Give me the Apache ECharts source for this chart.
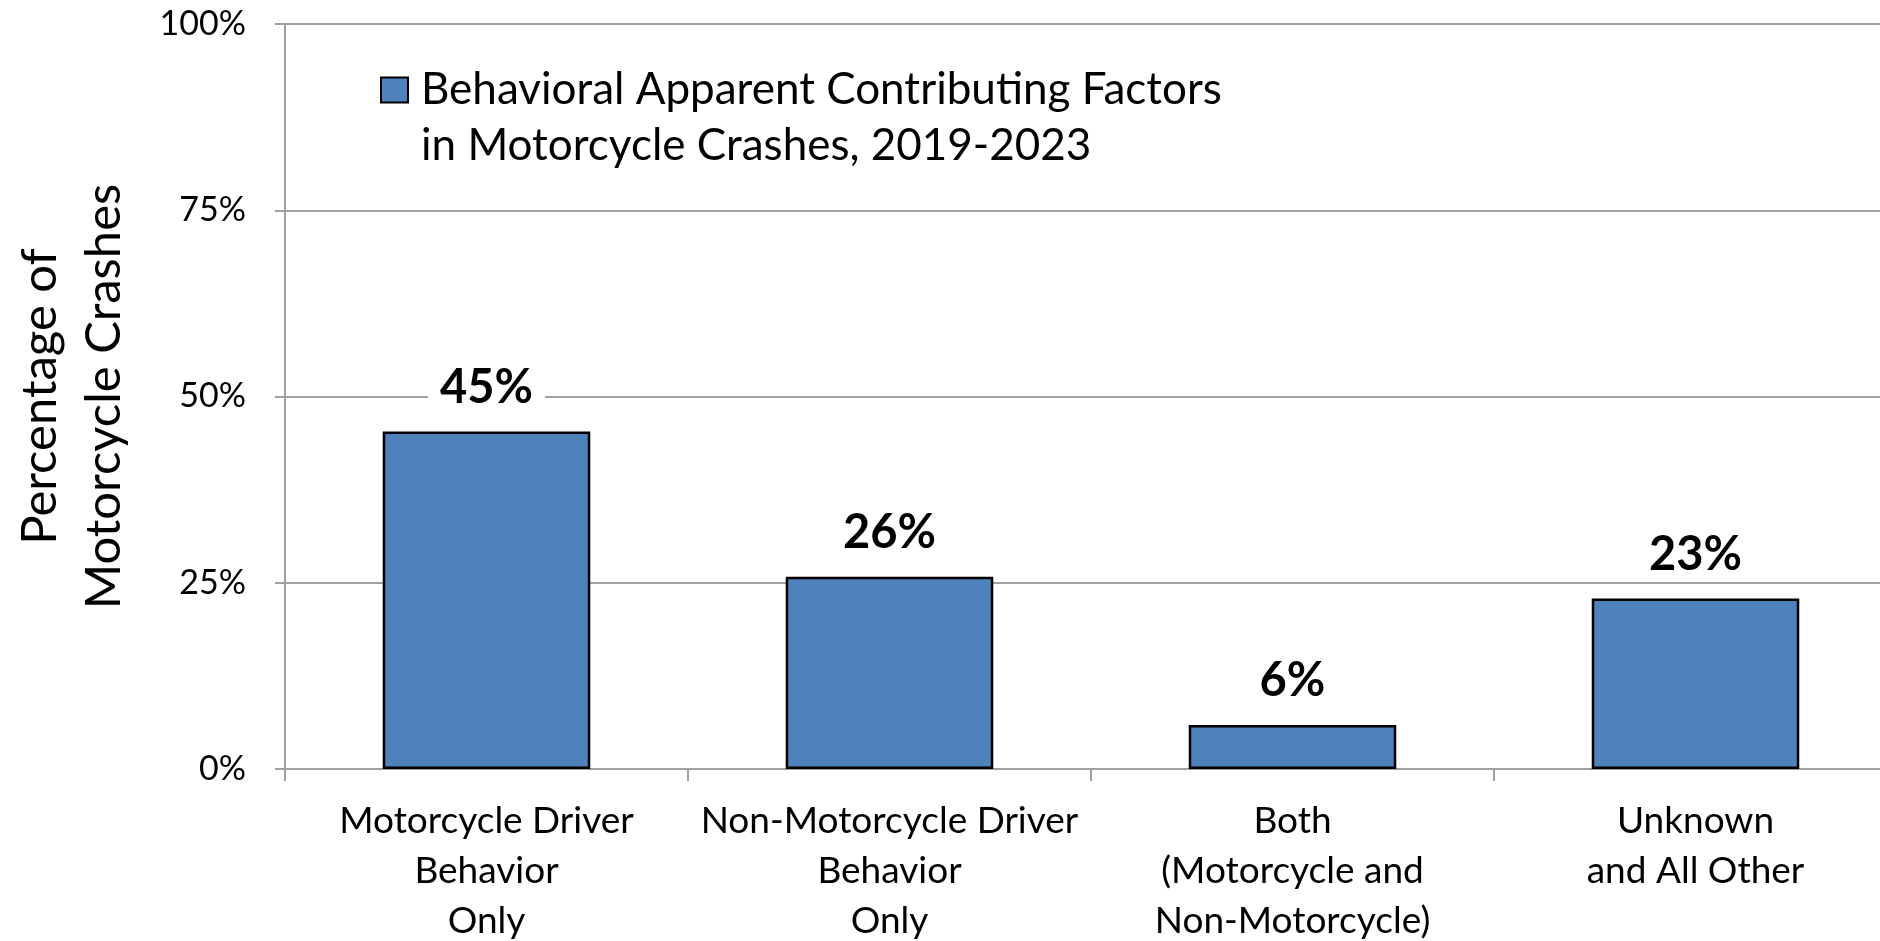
<!DOCTYPE html>
<html>
<head>
<meta charset="utf-8">
<title>Behavioral Apparent Contributing Factors</title>
<script src="https://cdn.jsdelivr.net/npm/echarts@6/dist/echarts.min.js"></script>
<style>
  html, body { margin: 0; padding: 0; background: #fff; }
  #chart { width: 1880px; height: 941px; }
</style>
</head>
<body>
<div id="chart"></div>
<script>
// data
var categories = [
  'Motorcycle Driver\nBehavior\nOnly',
  'Non-Motorcycle Driver\nBehavior\nOnly',
  'Both\n(Motorcycle and\nNon-Motorcycle)',
  'Unknown\nand All Other'
]
var seriesName = 'Behavioral Apparent Contributing Factors\nin Motorcycle Crashes, 2019-2023'
var shares = [45.3, 25.8, 5.9, 22.9]
var yTicks = [0, 25, 50, 75, 100]

var font = 'Lato'
var gridColor = '#a0a0a0'

var myChart = echarts.init(document.getElementById('chart'), null, { renderer: 'canvas' })

var option = {
  backgroundColor: '#fff',
  animation: false,
  textStyle: { fontFamily: font, color: '#000' },
  grid: {
    left: 285,
    top: 24,
    width: 1612,
    height: 745,
    containLabel: false,
    outerBoundsMode: 'none'
  },
  legend: {
    left: 380,
    top: 6,
    padding: 0,
    icon: 'rect',
    itemWidth: 27,
    itemHeight: 25,
    itemStyle: { borderColor: '#000', borderWidth: 2 },
    data: [seriesName],
    // blank first line so the box sits level with the first text line
    formatter: function(name) {
      return '\n' + name
    },
    textStyle: {
      fontFamily: font,
      fontSize: 44,
      color: '#000',
      lineHeight: 56,
      padding: [0, 0, 0, 8]
    }
  },
  xAxis: {
    type: 'category',
    data: categories,
    axisLine: { lineStyle: { color: gridColor, width: 2 } },
    axisTick: { show: true, length: 12, lineStyle: { color: gridColor, width: 2 } },
    axisLabel: {
      interval: 0,
      margin: 27,
      fontFamily: font,
      fontSize: 37,
      lineHeight: 50,
      color: '#000'
    }
  },
  yAxis: {
    type: 'value',
    min: yTicks[0],
    max: yTicks[yTicks.length - 1],
    interval: 25,
    name: 'Percentage of\nMotorcycle Crashes',
    nameLocation: 'middle',
    nameRotate: 90,
    nameGap: 149,
    nameTextStyle: {
      fontFamily: font,
      fontSize: 49,
      lineHeight: 64,
      color: '#000'
    },
    axisLine: { show: true, lineStyle: { color: gridColor, width: 2 } },
    axisTick: { show: true, length: 10, lineStyle: { color: gridColor, width: 2 } },
    axisLabel: {
      margin: 39,
      fontFamily: font,
      fontSize: 34,
      color: '#000',
      formatter: '{value}%'
    },
    splitLine: { lineStyle: { color: gridColor, width: 2 } }
  },
  series: [
    {
      name: seriesName,
      type: 'bar',
      data: shares,
      barWidth: '51.5%',
      itemStyle: {
        color: '#4f81bd',
        borderColor: '#000',
        borderWidth: 2.5
      },
      label: {
        show: true,
        position: 'top',
        distance: 19,
        fontFamily: font,
        fontSize: 47,
        fontWeight: 'bold',
        lineHeight: 46,
        color: '#000',
        backgroundColor: '#fff',
        padding: [2, 12],
        formatter: function(p) {
          return Math.round(p.value) + '%'
        }
      }
    }
  ]
}

option && myChart.setOption(option)
</script>
</body>
</html>
